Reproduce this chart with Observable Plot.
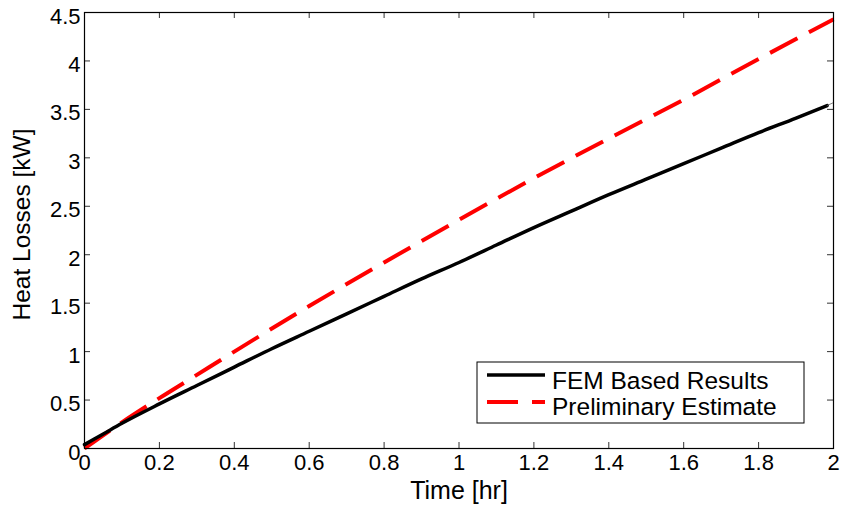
<!DOCTYPE html>
<html>
<head>
<meta charset="utf-8">
<script src="https://cdn.jsdelivr.net/npm/d3@7"></script>
<script src="https://cdn.jsdelivr.net/npm/@observablehq/plot@0.6"></script>
<style>
  html, body { margin: 0; padding: 0; background: #fff; }
  #chart { position: relative; width: 846px; height: 512px; }
</style>
</head>
<body>
<div id="chart"></div>
<script>
// ---- data ----
const femTime   = [0, 0.05, 0.1, 0.2, 0.3, 0.4, 0.5, 0.6, 0.7, 0.8, 0.9, 1.0, 1.1, 1.2, 1.3, 1.4, 1.5, 1.6, 1.7, 1.8, 1.9, 1.983];
const femLoss   = [0.04, 0.15, 0.26, 0.46, 0.65, 0.84, 1.03, 1.21, 1.39, 1.57, 1.75, 1.92, 2.10, 2.28, 2.45, 2.62, 2.78, 2.94, 3.10, 3.26, 3.41, 3.54];
const tailTime  = [1.983, 2.0];
const tailLoss  = [3.54, 3.57];
const estTime   = [0, 0.1, 0.2, 0.3, 0.4, 0.6, 0.8, 1.0, 1.2, 1.4, 1.6, 1.8, 2.0];
const estLoss   = [0, 0.27, 0.52, 0.76, 1.00, 1.47, 1.92, 2.36, 2.79, 3.20, 3.60, 4.02, 4.43];
const xTicks    = [0, 0.2, 0.4, 0.6, 0.8, 1, 1.2, 1.4, 1.6, 1.8, 2];
const yTicks    = [0, 0.5, 1, 1.5, 2, 2.5, 3, 3.5, 4, 4.5];
const xLabel    = "Time [hr]";
const yLabel    = "Heat Losses [kW]";
const seriesNames = ["FEM Based Results", "Preliminary Estimate"];

const fem  = femTime.map((t, i) => ({t, v: femLoss[i]}));
const tail = tailTime.map((t, i) => ({t, v: tailLoss[i]}));
const est  = estTime.map((t, i) => ({t, v: estLoss[i]}));

const W = 846, H = 512;
const mL = 84, mR = 13, mT = 12, mB = 64;
const fw = W - mL - mR, fh = H - mT - mB;
const tk = 6;

const plot = Plot.plot({
  width: W, height: H,
  marginLeft: mL, marginRight: mR, marginTop: mT, marginBottom: mB,
  style: {fontFamily: "'Liberation Sans', Arial, sans-serif", background: "#fff", color: "#000"},
  x: {domain: [0, 2]},
  y: {domain: [0, 4.5]},
  marks: [
    Plot.line(est, {x: "t", y: "v", stroke: "#ff0000", strokeWidth: 4, strokeDasharray: "31,13", strokeLinecap: "butt", curve: "monotone-x"}),
    Plot.line(fem, {x: "t", y: "v", stroke: "#000", strokeWidth: 3.5, strokeLinejoin: "round", curve: "monotone-x"}),
    Plot.line(tail, {x: "t", y: "v", stroke: "#666", strokeWidth: 0.8}),
    // inward ticks on all four sides
    Plot.tickX(xTicks, {x: d => d, stroke: "#333", strokeWidth: 1, insetTop: fh - tk}),
    Plot.tickX(xTicks, {x: d => d, stroke: "#333", strokeWidth: 1, insetBottom: fh - tk}),
    Plot.tickY(yTicks, {y: d => d, stroke: "#333", strokeWidth: 1, insetRight: fw - tk}),
    Plot.tickY(yTicks, {y: d => d, stroke: "#333", strokeWidth: 1, insetLeft: fw - tk}),
    Plot.frame({stroke: "#000", strokeWidth: 1.2}),
    Plot.axisX({ticks: xTicks, tickFormat: d => String(d), tickSize: 0, tickPadding: 6, fontSize: 22, label: null}),
    Plot.axisY({ticks: yTicks, tickFormat: d => String(d), tickSize: 0, tickPadding: 4, fontSize: 22, label: null, dy: 4}),
    Plot.text([xLabel], {frameAnchor: "bottom", dy: 50, fontSize: 25, text: d => d}),
    Plot.text([yLabel], {frameAnchor: "left", dx: -62, dy: -6, rotate: -90, textAnchor: "middle", fontSize: 24.5, text: d => d})
  ]
});

document.getElementById("chart").appendChild(plot);

// ---- legend (MATLAB style box) ----
const svg = d3.select(plot);
const lg = svg.append("g").attr("font-family", "'Liberation Sans', Arial, sans-serif").attr("text-anchor", "start");
lg.append("rect").attr("x", 477).attr("y", 362).attr("width", 327).attr("height", 61)
  .attr("fill", "#fff").attr("stroke", "#000").attr("stroke-width", 1);
lg.append("line").attr("x1", 487).attr("x2", 545).attr("y1", 375).attr("y2", 375)
  .attr("stroke", "#000").attr("stroke-width", 3.5);
lg.append("line").attr("x1", 487).attr("x2", 545).attr("y1", 402).attr("y2", 402)
  .attr("stroke", "#ff0000").attr("stroke-width", 4).attr("stroke-dasharray", "31,14");
lg.append("text").attr("x", 552).attr("y", 389).attr("font-size", 24.5).attr("text-anchor", "start").text(seriesNames[0]);
lg.append("text").attr("x", 552).attr("y", 415).attr("font-size", 24.5).attr("text-anchor", "start").text(seriesNames[1]);
</script>
</body>
</html>
